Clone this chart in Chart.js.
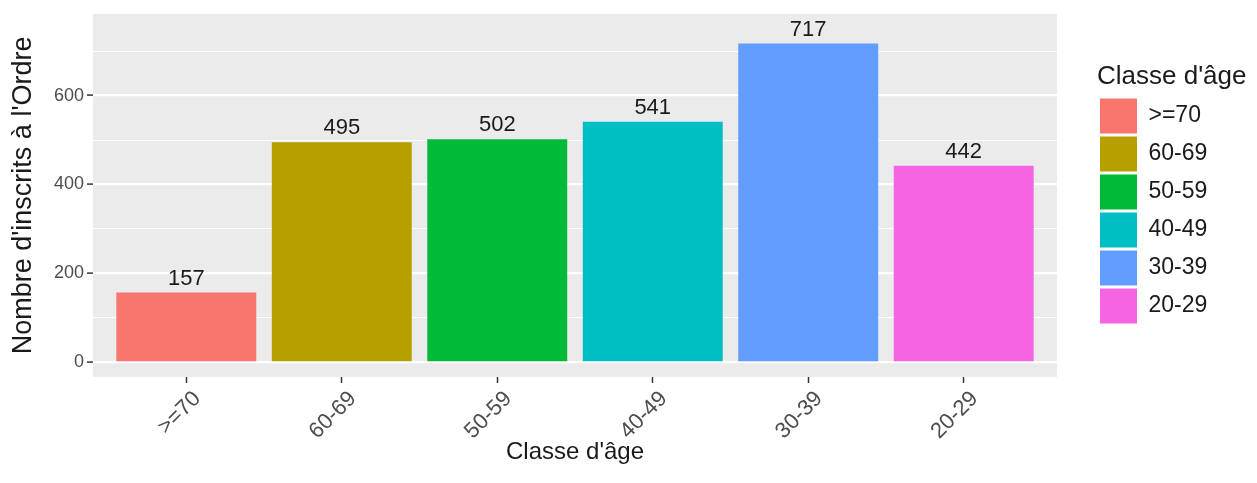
<!DOCTYPE html>
<html><head><meta charset="utf-8">
<script src="https://cdn.jsdelivr.net/npm/chart.js@4"></script>
<style>html,body{margin:0;padding:0;background:#fff}canvas{display:block}</style>
</head><body>
<canvas id="c" width="1257" height="483"></canvas>
<script>
const categories = [">=70", "60-69", "50-59", "40-49", "30-39", "20-29"];
const counts = [157, 495, 502, 541, 717, 442];
const colors = ["#F8766D", "#B79F00", "#00BA38", "#00BFC4", "#619CFF", "#F564E3"];
const yTickValues = [0, 100, 200, 300, 400, 500, 600, 700];
const yLabeledValues = [0, 200, 400, 600];
const xTitle = "Classe d'âge";
const yTitle = "Nombre d'inscrits à l'Ordre";
const legendTitle = "Classe d'âge";

const FONT = "'Liberation Sans', Arial, sans-serif";

const bgPlugin = {
  id: 'panelBg',
  beforeLayout(chart) {
    const lg = chart.legend;
    if (lg && !lg._wrapped) {
      const f = lg.fit;
      lg.fit = function () { f.call(this); this.width = 160; };
      lg._wrapped = true;
    }
  },
  beforeDraw(chart) {
    const { ctx, chartArea: a } = chart;
    ctx.save();
    ctx.fillStyle = '#ffffff';
    ctx.fillRect(0, 0, chart.width, chart.height);
    ctx.fillStyle = '#EBEBEB';
    ctx.fillRect(a.left, a.top, a.right - a.left, a.bottom - a.top);
    ctx.restore();
  },
  afterDatasetsDraw(chart) {
    const { ctx } = chart;
    const meta = chart.getDatasetMeta(0);
    ctx.save();
    ctx.font = '22px ' + FONT;
    ctx.fillStyle = '#1a1a1a';
    ctx.textAlign = 'center';
    ctx.textBaseline = 'alphabetic';
    meta.data.forEach((bar, i) => {
      ctx.fillText(String(counts[i]), bar.x, bar.y - 8);
    });
    ctx.restore();
  }
};

new Chart(document.getElementById('c'), {
  type: 'bar',
  data: {
    datasets: [{
      data: counts.map((v, i) => ({ x: i, y: v })),
      backgroundColor: colors,
      borderWidth: 0,
      categoryPercentage: 1,
      barPercentage: 0.9
    }]
  },
  options: {
    responsive: false,
    animation: false,
    devicePixelRatio: 1,
    layout: { padding: { top: 7, left: 0, right: 0, bottom: 0 } },
    plugins: {
      tooltip: { enabled: false },
      legend: {
        position: 'right',
        fullSize: false,
        align: 'center',
        title: {
          display: true,
          text: legendTitle,
          position: 'start',
          padding: 0,
          color: '#1a1a1a',
          font: { size: 26, family: FONT }
        },
        labels: {
          boxWidth: 37,
          boxHeight: 35,
          padding: 3,
          color: '#1a1a1a',
          font: { size: 23, family: FONT },
          generateLabels: () => categories.map((c, i) => ({
            text: c, fillStyle: colors[i], strokeStyle: colors[i], lineWidth: 0, hidden: false, index: i
          }))
        }
      }
    },
    scales: {
      x: {
        type: 'linear',
        offset: false,
        min: -0.6,
        max: 5.6,
        afterBuildTicks: (s) => { s.ticks = categories.map((c, i) => ({ value: i })); },
        afterFit: (s) => { s.height = 106; },
        border: { display: false },
        grid: { offset: false, drawOnChartArea: false, tickLength: 6, tickColor: '#333333', tickWidth: 1.5 },
        ticks: {
          autoSkip: false,
          maxRotation: 45,
          minRotation: 45,
          padding: 3,
          labelOffset: 11,
          color: '#4D4D4D',
          font: { size: 22, family: FONT },
          callback: (v) => categories[v] ?? ''
        },
        title: {
          display: true,
          text: xTitle,
          color: '#1a1a1a',
          font: { size: 24, family: FONT },
          padding: { top: 2, bottom: 16 }
        }
      },
      y: {
        min: -33,
        max: 784,
        afterBuildTicks: (s) => { s.ticks = yTickValues.map(v => ({ value: v })); },
        afterFit: (s) => { s.width = 93; },
        border: { display: false },
        grid: {
          color: '#ffffff',
          lineWidth: (ctx) => (ctx.tick && yLabeledValues.includes(ctx.tick.value)) ? 2.2 : 1.1,
          tickLength: 6,
          tickColor: (ctx) => (ctx.tick && yLabeledValues.includes(ctx.tick.value)) ? '#333333' : 'rgba(0,0,0,0)',
          tickWidth: 1.5
        },
        ticks: {
          autoSkip: false,
          padding: 3,
          color: '#4D4D4D',
          font: { size: 18, family: FONT },
          callback: (v) => yLabeledValues.includes(v) ? String(v) : ''
        },
        title: {
          display: true,
          text: yTitle,
          color: '#1a1a1a',
          font: { size: 27, family: FONT },
          padding: { top: 7, bottom: 2 }
        }
      },
      yR: {
        type: 'linear',
        position: 'right',
        display: true,
        afterFit: (s) => { s.width = 40; },
        border: { display: false },
        grid: { display: false },
        ticks: { display: false }
      }
    }
  },
  plugins: [bgPlugin]
});
</script>
</body></html>
